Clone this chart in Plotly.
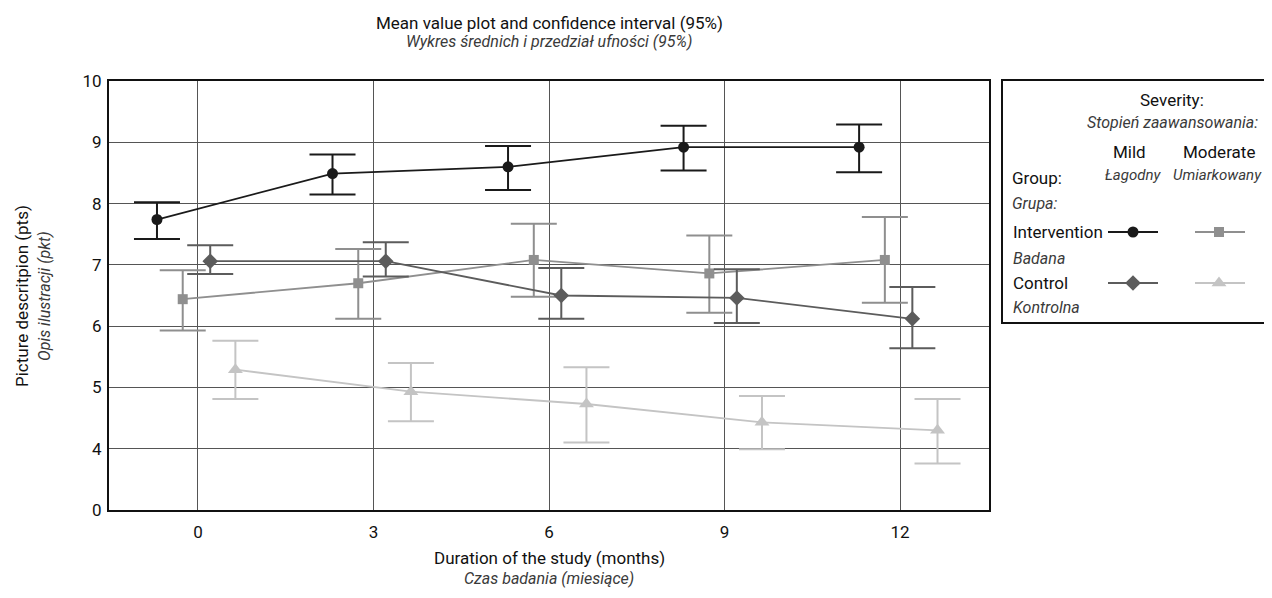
import plotly.graph_objects as go

# ---------------- data ----------------
months = [0, 3, 6, 9, 12]
x_tick_labels = ["0", "3", "6", "9", "12"]
# broken value axis: bottom position (3) is labelled "0"
y_tick_vals = [3, 4, 5, 6, 7, 8, 9, 10]
y_tick_labels = ["0", "4", "5", "6", "7", "8", "9", "10"]

int_mild_mean = [7.74, 8.49, 8.60, 8.92, 8.92]
int_mild_lo = [7.42, 8.15, 8.22, 8.54, 8.51]
int_mild_hi = [8.02, 8.80, 8.94, 9.27, 9.29]

int_mod_mean = [6.44, 6.70, 7.08, 6.86, 7.08]
int_mod_lo = [5.93, 6.12, 6.48, 6.22, 6.38]
int_mod_hi = [6.91, 7.26, 7.67, 7.48, 7.78]

ctl_mild_mean = [7.06, 7.06, 6.50, 6.46, 6.12]
ctl_mild_lo = [6.85, 6.81, 6.12, 6.05, 5.64]
ctl_mild_hi = [7.32, 7.37, 6.95, 6.93, 6.64]

ctl_mod_mean = [5.29, 4.93, 4.73, 4.43, 4.30]
ctl_mod_lo = [4.81, 4.45, 4.10, 3.99, 3.76]
ctl_mod_hi = [5.76, 5.40, 5.33, 4.86, 4.81]

# ---------------- layout geometry ----------------
OFF = 8                      # page body margin
W, H = 1272, 598
L = 109 - OFF
T = 81 - OFF
PLOT_BOTTOM = 510 - OFF
PLOT_RIGHT = 989 - OFF
R = 10
B = H - PLOT_BOTTOM
PW = W - L - R
PH = H - T - B

def px(x):      # screen x -> paper
    return (x - OFF - L) / PW

def py(y):      # screen y -> paper
    return (H - B - (y - OFF)) / PH

FONT = "Roboto, Liberation Sans, sans-serif"
FS = 17
ITAL = "#3a3a3a"

series = [
    dict(mean=int_mild_mean, lo=int_mild_lo, hi=int_mild_hi, off=-0.70,
         color="#1a1a1a", symbol="circle", size=11),
    dict(mean=int_mod_mean, lo=int_mod_lo, hi=int_mod_hi, off=-0.26,
         color="#8f8f8f", symbol="square", size=10),
    dict(mean=ctl_mild_mean, lo=ctl_mild_lo, hi=ctl_mild_hi, off=0.21,
         color="#5c5c5c", symbol="diamond", size=12),
    dict(mean=ctl_mod_mean, lo=ctl_mod_lo, hi=ctl_mod_hi, off=0.64,
         color="#c4c4c4", symbol="triangle-up", size=13),
]

fig = go.Figure()
for s in series:
    xs = [m + s["off"] for m in months]
    up = [h - m for h, m in zip(s["hi"], s["mean"])]
    dn = [m - l for l, m in zip(s["lo"], s["mean"])]
    fig.add_trace(go.Scatter(
        x=xs, y=s["mean"], mode="lines+markers",
        line=dict(color=s["color"], width=1.8),
        marker=dict(symbol=s["symbol"], size=s["size"], color=s["color"]),
        error_y=dict(type="data", symmetric=False, array=up, arrayminus=dn,
                     color=s["color"], thickness=2, width=23),
        showlegend=False, xaxis="x", yaxis="y", cliponaxis=False,
    ))

# legend glyphs on a helper axis expressed in screen pixels
leg_rows = [
    (1108, 1158, 1133, 232, "#1a1a1a", "circle", 11),
    (1195, 1245, 1219, 232, "#8f8f8f", "square", 10),
    (1108, 1158, 1133, 283, "#5c5c5c", "diamond", 12),
    (1195, 1245, 1219, 283, "#c4c4c4", "triangle-up", 13),
]
for x0, x1, xm, yy, c, sym, sz in leg_rows:
    fig.add_trace(go.Scatter(
        x=[x0, xm, x1], y=[yy, yy, yy], mode="lines",
        line=dict(color=c, width=1.8), showlegend=False,
        xaxis="x2", yaxis="y2", hoverinfo="skip"))
    fig.add_trace(go.Scatter(
        x=[xm], y=[yy], mode="markers",
        marker=dict(symbol=sym, size=sz, color=c), showlegend=False,
        xaxis="x2", yaxis="y2", hoverinfo="skip"))

annotations = []

def add_text(text, x, y, xanchor="center", italic=False, color="#111", size=FS, angle=0):
    annotations.append(dict(
        text=f"<i>{text}</i>" if italic else text,
        x=px(x), y=py(y), xref="paper", yref="paper",
        xanchor=xanchor, yanchor="middle", showarrow=False,
        textangle=angle,
        font=dict(family=FONT, size=size, color=ITAL if italic else color)))

# titles
add_text("Mean value plot and confidence interval (95%)", 549, 23)
add_text("Wykres średnich i przedział ufności (95%)", 549, 41, italic=True, size=16)
add_text("Duration of the study (months)", 549, 558)
add_text("Czas badania (miesiące)", 549, 578, italic=True, size=16)
add_text("Picture descritpion (pts)", 22, 296, angle=-90)
add_text("Opis ilustracji (pkt)", 44, 296, italic=True, angle=-90, size=16)

# legend texts
add_text("Severity:", 1172, 100)
add_text("Stopień zaawansowania:", 1172, 122, italic=True, size=16)
add_text("Mild", 1129, 152)
add_text("Moderate", 1219, 152)
add_text("Łagodny", 1133, 175, italic=True, size=15)
add_text("Umiarkowany", 1217, 175, italic=True, size=15)
add_text("Group:", 1010, 178, xanchor="left")
add_text("Grupa:", 1010, 203, xanchor="left", italic=True, size=16)
add_text("Intervention", 1011, 232, xanchor="left")
add_text("Badana", 1011, 258, xanchor="left", italic=True, size=16)
add_text("Control", 1011, 283, xanchor="left")
add_text("Kontrolna", 1011, 307, xanchor="left", italic=True, size=16)

shapes = [dict(type="rect", xref="paper", yref="paper",
               x0=px(1002), x1=px(1276), y0=py(323), y1=py(80),
               line=dict(color="#111", width=2), fillcolor="rgba(0,0,0,0)")]

fig.update_layout(
    width=W, height=H,
    margin=dict(l=L, r=R, t=T, b=B),
    paper_bgcolor="white", plot_bgcolor="rgba(0,0,0,0)",
    font=dict(family=FONT, size=FS, color="#111"),
    annotations=annotations, shapes=shapes,
    xaxis=dict(domain=[0, (PLOT_RIGHT - L) / PW], range=[-1.52, 13.52],
               tickvals=months, ticktext=x_tick_labels,
               showgrid=True, gridcolor="#555", gridwidth=1,
               zeroline=False, showline=True, mirror=True,
               linecolor="#111", linewidth=2,
               ticks="outside", ticklen=6, tickcolor="rgba(0,0,0,0)",
               tickfont=dict(family=FONT, size=FS, color="#111")),
    yaxis=dict(domain=[0, 1], range=[3, 10],
               tickvals=y_tick_vals, ticktext=y_tick_labels,
               showgrid=True, gridcolor="#555", gridwidth=1,
               zeroline=False, showline=True, mirror=True,
               linecolor="#111", linewidth=2,
               ticks="outside", ticklen=2, tickcolor="rgba(0,0,0,0)",
               tickfont=dict(family=FONT, size=FS, color="#111")),
    xaxis2=dict(domain=[0, 1], range=[L + OFF, W - R + OFF], visible=False,
                anchor="y2", fixedrange=True),
    yaxis2=dict(domain=[0, 1], range=[H - B + OFF, T + OFF], visible=False,
                anchor="x2", fixedrange=True),
)

fig.write_html("out.html")
